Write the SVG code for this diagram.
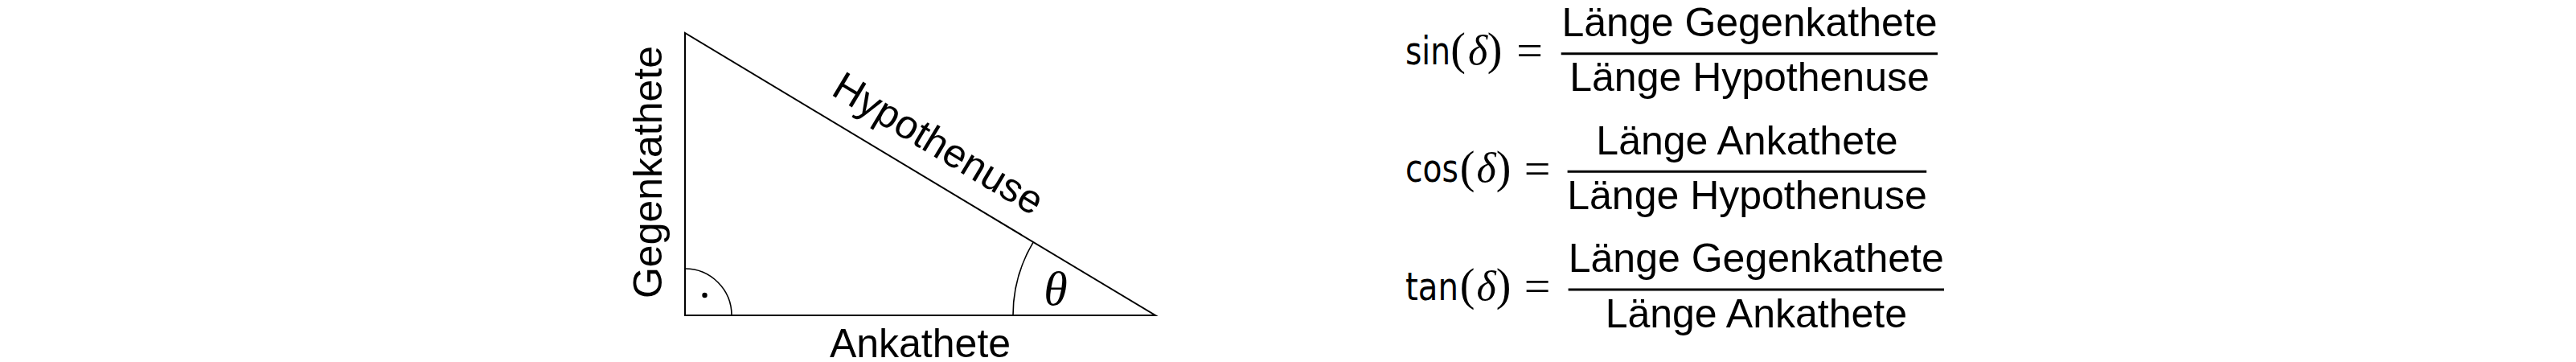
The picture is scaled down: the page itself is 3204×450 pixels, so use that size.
<svg xmlns="http://www.w3.org/2000/svg" width="3204" height="450" viewBox="0 0 3204 450">
<style>
.edge{fill:none;stroke:#000;stroke-width:2;stroke-linejoin:miter}
.arc{fill:none;stroke:#000;stroke-width:1.6}
.lbl{font-family:"Liberation Sans",Arial,sans-serif;font-size:50px;fill:#000}
.op{font-family:"DejaVu Sans Condensed","DejaVu Sans",sans-serif;font-stretch:condensed;font-size:48px;fill:#000}
.par{font-family:"Liberation Serif","Times New Roman",serif;font-size:56px;fill:#000;text-anchor:middle}
.var{font-family:"Liberation Serif","Times New Roman",serif;font-style:italic;font-size:52px;fill:#000;text-anchor:middle}
.eq{font-family:"Liberation Serif","Times New Roman",serif;font-size:58px;fill:#000;text-anchor:middle}
.frac{font-family:"Liberation Sans",Arial,sans-serif;font-size:50px;fill:#000;text-anchor:middle}
.bar{stroke:#000;stroke-width:3}
</style>
<rect width="3204" height="450" fill="#fff"/>
<g id="triangle">
<polygon class="edge" points="852,41 852,392 1437,392"/>
<path class="arc" d="M852,334 A58,58 0 0 1 910,392"/>
<circle cx="876.5" cy="367" r="3.2" fill="#000"/>
<path class="arc" d="M1260,392 A177,177 0 0 1 1285.2,301"/>
</g>
<g id="labels">
<text class="lbl" text-anchor="middle" transform="translate(823,214) rotate(-90)">Gegenkathete</text>
<text class="lbl" text-anchor="middle" x="1144.5" y="444">Ankathete</text>
<text class="lbl" text-anchor="middle" transform="translate(1158.7,192.9) rotate(30.96)">Hypothenuse</text>
<text x="1313" y="379" font-family="Liberation Serif,'Times New Roman',serif" font-style="italic" font-size="60" text-anchor="middle">θ</text>
</g>
<g id="sin">
<text class="op" x="1748" y="79.5" textLength="56" lengthAdjust="spacingAndGlyphs">sin</text>
<text class="par" x="1813.5" y="80">(</text>
<text class="var" x="1838" y="79.5">δ</text>
<text class="par" x="1859" y="80">)</text>
<text class="eq" x="1902.5" y="82">=</text>
<line class="bar" x1="1941.7" y1="66.7" x2="2410" y2="66.7"/>
<text class="frac" x="2176" y="45">Länge Gegenkathete</text>
<text class="frac" x="2176" y="113.3">Länge Hypothenuse</text>
</g>
<g id="cos">
<text class="op" x="1748" y="226.1" textLength="66" lengthAdjust="spacingAndGlyphs">cos</text>
<text class="par" x="1825" y="226.6">(</text>
<text class="var" x="1848.5" y="226.1">δ</text>
<text class="par" x="1870" y="226.6">)</text>
<text class="eq" x="1912" y="228.6">=</text>
<line class="bar" x1="1949.6" y1="213.3" x2="2396.2" y2="213.3"/>
<text class="frac" x="2173" y="191.6">Länge Ankathete</text>
<text class="frac" x="2173" y="260">Länge Hypothenuse</text>
</g>
<g id="tan">
<text class="op" x="1748" y="372.8" textLength="66" lengthAdjust="spacingAndGlyphs">tan</text>
<text class="par" x="1825" y="373.3">(</text>
<text class="var" x="1848.5" y="372.8">δ</text>
<text class="par" x="1870" y="373.3">)</text>
<text class="eq" x="1912" y="375.3">=</text>
<line class="bar" x1="1950.6" y1="360" x2="2418" y2="360"/>
<text class="frac" x="2184.3" y="338.3">Länge Gegenkathete</text>
<text class="frac" x="2184.3" y="406.7">Länge Ankathete</text>
</g>
</svg>
